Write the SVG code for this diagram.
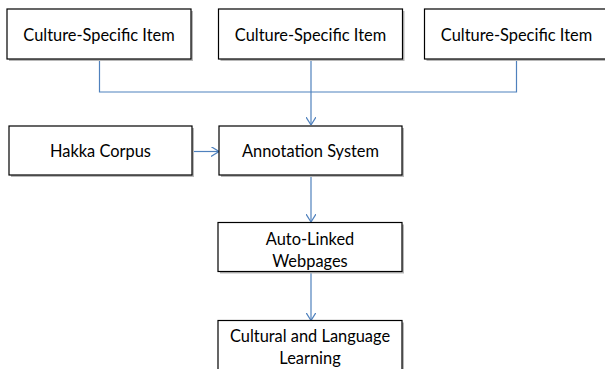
<svg xmlns="http://www.w3.org/2000/svg" width="605" height="369" viewBox="0 0 605 369">
<style>
.box{fill:#fff;stroke:#000;stroke-width:1.2}
.sh{fill:#b8b8b8}
.t{font-family:Lato,"Liberation Sans",sans-serif;font-size:16.4px;fill:#000;text-anchor:middle}
.c{fill:none;stroke:#4F81BD;stroke-width:1.2}
</style>
<defs>
<marker id="ah" viewBox="0 0 8 10" refX="8" refY="5" markerWidth="8" markerHeight="10" markerUnits="userSpaceOnUse" orient="auto">
<path d="M0,0 L8,5 L0,10" fill="none" stroke="#4F81BD" stroke-width="1.2"/>
</marker>
</defs>
<g id="connectors">
<path class="c" d="M99.5,59 V92 H516.5 V59"/>
<path class="c" d="M311,59 V125" marker-end="url(#ah)"/>
<path class="c" d="M192,151.5 H219" marker-end="url(#ah)"/>
<path class="c" d="M311,175 V222" marker-end="url(#ah)"/>
<path class="c" d="M311,272 V320.5" marker-end="url(#ah)"/>
</g>
<g id="csi1"><rect class="sh" x="9" y="11" width="184" height="50"/><rect class="box" x="7" y="9" width="184" height="50"/><text class="t" x="99" y="41">Culture-Specific Item</text></g>
<g id="csi2"><rect class="sh" x="220.5" y="11" width="184" height="50"/><rect class="box" x="218.5" y="9" width="184" height="50"/><text class="t" x="310.5" y="41">Culture-Specific Item</text></g>
<g id="csi3"><rect class="sh" x="426.5" y="11" width="184" height="50"/><rect class="box" x="424.5" y="9" width="184" height="50"/><text class="t" x="516.5" y="41">Culture-Specific Item</text></g>
<g id="hakka"><rect class="sh" x="11" y="128" width="183" height="49"/><rect class="box" x="9" y="126" width="183" height="49"/><text class="t" x="100.5" y="157">Hakka Corpus</text></g>
<g id="annotation"><rect class="sh" x="221" y="128" width="183" height="49"/><rect class="box" x="219" y="126" width="183" height="49"/><text class="t" x="310.5" y="157">Annotation System</text></g>
<g id="autolinked"><rect class="sh" x="220" y="224.5" width="184" height="49"/><rect class="box" x="218" y="222.5" width="184" height="49"/><text class="t" x="310" y="244.5">Auto-Linked</text><text class="t" x="310" y="267">Webpages</text></g>
<g id="learning"><rect class="sh" x="220" y="322.5" width="184" height="60"/><rect class="box" x="218" y="320.5" width="184" height="60"/><text class="t" x="310" y="341.5">Cultural and Language</text><text class="t" x="310" y="364">Learning</text></g>
</svg>
